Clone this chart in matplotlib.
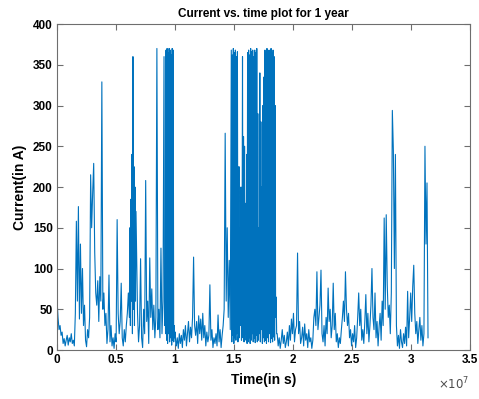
import matplotlib
matplotlib.use('Agg')
import matplotlib.pyplot as plt
import numpy as np

plt.rcParams['font.family'] = ['Liberation Sans', 'DejaVu Sans']

# current (A); daily values, 12-hourly in the busy spells
days_000_070 = [
    62, 40, 25, 30, 18, 22, 8, 14, 5, 12, 18, 6, 15, 10, 20, 8,
    12, 5, 45, 158, 60, 176, 38, 130, 45, 100, 30, 55, 12, 4, 25,
    15, 40, 215, 150, 193, 229, 120, 70, 55, 85, 35, 90, 60, 329, 50,
    70, 30, 45, 8, 25, 92, 10, 30, 5, 15, 2, 20, 10, 160, 45,
    20, 35, 82, 15, 5, 25, 10, 30, 45, 70,
]
days_071_077_half = [40, 150, 30, 185, 60, 240, 20, 360, 50, 225, 30, 200, 60, 170]
days_078_104 = [
    130, 45, 10, 30, 112, 15, 3, 50, 20, 208, 35, 60, 8, 113, 40,
    75, 25, 55, 15, 40, 370, 25, 50, 15, 125, 20, 60,
]
days_105_116_half = [
    360, 30, 80, 20, 368, 12, 370, 8, 365, 20, 370, 10,
    368, 15, 362, 6, 370, 12, 368, 10, 30, 15, 22, 8,
]
days_117_170 = [
    5, 15, 2, 20, 8, 18, 3, 25, 12, 30, 5, 20, 35, 10, 28, 15, 40, 114,
    30, 18, 35, 8, 42, 20, 38, 12, 45, 15, 30, 5, 22, 10, 18, 80, 12, 25,
    3, 15, 8, 20, 5, 43, 10, 25, 3, 18, 30, 50, 266, 60, 150, 40, 110, 25,
]
days_171_215_half = [
    368, 10, 362, 18, 370, 8, 365, 15, 368, 12, 360, 20, 366, 10,
    20, 225, 15, 150, 30, 200, 12, 90,
    360, 15,
    262, 10, 250, 20, 180, 12, 240, 8,
    365, 10, 368, 15, 362, 8, 370, 12, 366, 20, 368, 10, 360, 14, 368, 9, 365, 18, 370, 10,
    290, 12, 150, 20, 340, 10, 280, 25, 200, 8, 300, 15, 335, 10,
    368, 12, 365, 8, 370, 15, 362, 10, 368, 20, 366, 9, 370, 14, 364, 10, 368, 16, 360, 12,
    300, 40, 65, 20,
]
days_216_364 = [
    20, 5, 15, 2, 12, 25, 8, 18, 3, 10, 22, 5, 30, 12, 38,
    20, 45, 10, 25, 30, 119, 20, 35, 8, 15, 28, 5, 32, 12, 20,
    3, 25, 10, 15, 2, 12, 40, 50, 30, 96, 25, 40, 55, 98, 20,
    10, 30, 5, 40, 20, 76, 35, 50, 15, 30, 82, 25, 45, 10, 20,
    3, 15, 8, 25, 40, 60, 35, 96, 50, 30, 45, 15, 25, 5, 20,
    10, 30, 3, 15, 40, 70, 30, 50, 12, 25,
    8, 35, 68, 20, 45, 10, 30, 55, 100, 40, 25, 70, 15, 35, 5,
    28, 45, 12, 60, 30, 162, 50, 166, 80, 40, 55, 20, 70, 294, 245,
    100, 240, 30, 5, 18, 2, 25, 10, 3, 20, 8, 28, 5, 72, 15,
    40, 70, 35, 78, 104, 45, 20, 35, 8, 25, 40, 12, 30, 5, 20,
    250, 130, 205, 15,
]

# (first day, step in days, values)
segments = [
    (0, 1.0, days_000_070),
    (71, 0.5, days_071_077_half),
    (78, 1.0, days_078_104),
    (105, 0.5, days_105_116_half),
    (117, 1.0, days_117_170),
    (171, 0.5, days_171_215_half),
    (216, 1.0, days_216_364),
]
seconds_per_day = 86400
time = np.concatenate([start + np.arange(len(v)) * step for start, step, v in segments]) * seconds_per_day
current = np.concatenate([v for _, _, v in segments])

xtick_vals = [0, 0.5e7, 1e7, 1.5e7, 2e7, 2.5e7, 3e7, 3.5e7]
xtick_labels = ['0', '0.5', '1', '1.5', '2', '2.5', '3', '3.5']
ytick_vals = [0, 50, 100, 150, 200, 250, 300, 350, 400]

fig = plt.figure(figsize=(4.79, 3.99), dpi=100)
ax = fig.add_axes([0.119, 0.1228, 0.862, 0.817])

ax.plot(time, current, color='#0072BD', linewidth=0.8)

ax.set_xlim(0, 3.5e7)
ax.set_ylim(0, 400)
ax.set_xticks(xtick_vals)
ax.set_xticklabels(xtick_labels)
ax.set_yticks(ytick_vals)

for s in ax.spines.values():
    s.set_color('#6e6e6e')
    s.set_linewidth(0.8)
ax.tick_params(direction='in', length=4, width=0.8, color='#6e6e6e',
               top=True, right=True, labelsize=8.5, pad=3)
for lab in ax.get_xticklabels() + ax.get_yticklabels():
    lab.set_fontweight('bold')

ax.set_title('Current vs. time plot for 1 year', fontsize=8.5, fontweight='bold', pad=5)
ax.set_xlabel('Time(in s)', fontsize=10, fontweight='bold', labelpad=5)
ax.set_ylabel('Current(in A)', fontsize=10, fontweight='bold', labelpad=4)
ax.text(1.0, -0.08, r'$\times10^{7}$', transform=ax.transAxes, ha='right', va='top',
        fontsize=8.5, color='#4d4d4d')

fig.savefig('out.png', dpi=100)
